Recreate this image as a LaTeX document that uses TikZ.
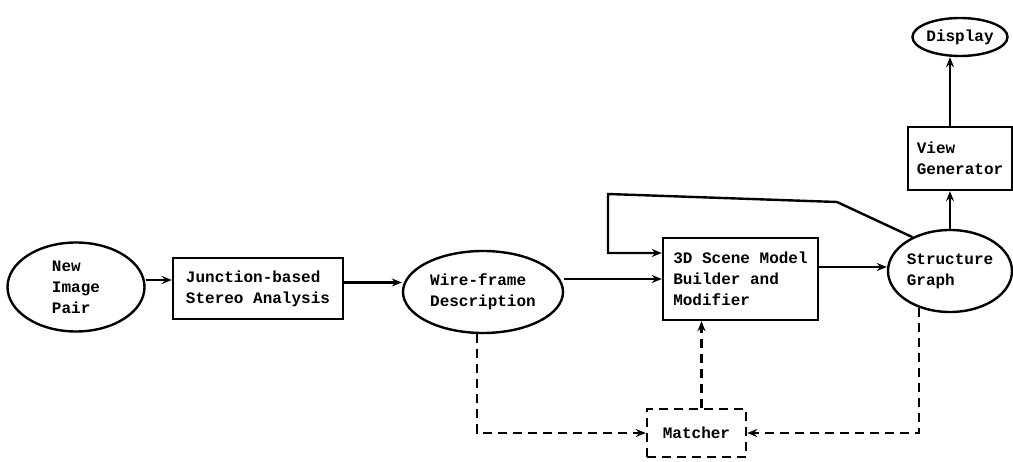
\documentclass[tikz,border=0pt]{standalone}
\usepackage{fontspec}
\setmonofont{Liberation Mono}
\usetikzlibrary{shapes.geometric,arrows.meta}

\tikzset{
    blk/.style={draw, line width=2.4pt, rectangle, align=left, inner sep=0pt},
    oval/.style={draw, line width=2.4pt, ellipse, align=left, inner sep=0pt},
    arr/.style={line width=2.4pt, -{Stealth[length=10pt,width=8pt]}},
    dsh/.style={arr, dash pattern=on 9pt off 6pt}
}

\begin{document}
\begin{tikzpicture}[x=1pt, y=-1pt, font=\ttfamily\bfseries\fontsize{16}{21}\selectfont] % Coordenadas en pixeles

        \useasboundingbox (0,0) rectangle (1013,462); % Margenes de la figura

        % Nodos principales
        \node[oval, minimum width=137, minimum height=89] (newpair) at (76,287) {New\\Image\\Pair};
        \node[blk, minimum width=170, minimum height=61] (junction) at (258,288.5) {Junction-based\\Stereo Analysis};
        \node[oval, minimum width=160, minimum height=82] (wireframe) at (483,292) {Wire-frame\\Description};
        \node[blk, minimum width=155, minimum height=82] (builder) at (740.5,279) {3D Scene Model\\Builder and\\Modifier};
        \node[oval, minimum width=124, minimum height=82] (structure) at (950,271) {Structure\\Graph};
        \node[blk, minimum width=104, minimum height=63] (viewgen) at (960,158.5) {View\\Generator};
        \node[oval, minimum width=90, minimum height=38] (display) at (960,37) {Display};
        \node[blk, dash pattern=on 9pt off 6pt, minimum width=99, minimum height=48] (matcher) at (696.5,433) {Matcher};

        % Flechas continuas
        \draw[arr] ([yshift=7pt]newpair.east) -- ([yshift=7pt]newpair.east -| junction.west);
        \draw[arr] ([yshift=6pt]junction.east) -- ([yshift=6pt]junction.east -| wireframe.west);
        \draw[arr] (wireframe.east |- builder.west) -- (builder.west);
        \draw[arr] ([yshift=12pt]builder.east) -- ([yshift=12pt]builder.east -| structure.west);
        \draw[arr] (structure.north) -- (structure.north |- viewgen.south);
        \draw[arr] (structure.north |- viewgen.north) -- (structure.north |- display.south);
        \draw[arr] (structure.138) -- (837,202) -- (608,194) |- ([yshift=26pt]builder.west); % Retroalimentacion

        % Flechas discontinuas hacia y desde el Matcher
        \draw[dsh] ([xshift=-6pt]wireframe.south) |- (matcher.west);
        \draw[dsh] ([xshift=5pt]matcher.north) -- ([xshift=5pt]matcher.north |- builder.south);
        \draw[dsh] (structure.230) |- (matcher.east);

    \end{tikzpicture}
\end{document}
